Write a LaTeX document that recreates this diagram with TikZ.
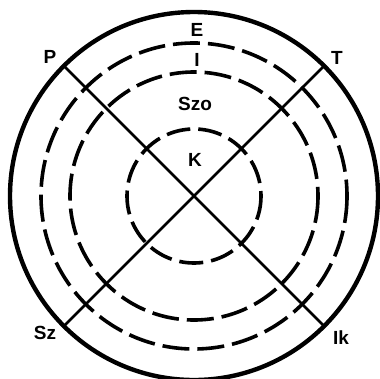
\documentclass[tikz,border=0pt]{standalone}
\usepackage{fontspec}
\setmainfont{Liberation Sans}
\begin{document}
\begin{tikzpicture}[x=1pt,y=-1pt,
  outer/.style={line width=4.4pt},
  ring/.style={line width=3.6pt,dash pattern=on 27pt off 8pt},
  cross/.style={line width=2.8pt},
  lab/.style={font=\fontsize{19}{22}\selectfont\bfseries,inner sep=0pt}]
\useasboundingbox (0,0) rectangle (380,378);
\coordinate (c) at (194,196);
\draw[outer] (c) circle[radius=184];
\draw[ring] (c) circle[radius=153];
\draw[ring] (c) circle[radius=124];
\draw[ring,dash pattern=on 24pt off 8pt] (c) circle[radius=67];
\path (c) ++(-130,-130) coordinate (pp);
\path (c) ++(130,-130) coordinate (tt);
\path (c) ++(-130,130) coordinate (ss);
\path (c) ++(130,130) coordinate (ii);
\draw[cross] (pp) -- (ii);
\draw[cross] (tt) -- (ss);
\node[lab] (E) at (197,30) {E};
\node[lab] (I) at (197,60) {I};
\node[lab] (Szo) at (195,104) {Szo};
\node[lab] (K) at (195,160) {K};
\node[lab] (P) at (50,57) {P};
\node[lab] (T) at (337,58) {T};
\node[lab] (Sz) at (45,333) {Sz};
\node[lab] (Ik) at (341,338) {Ik};
\end{tikzpicture}
\end{document}
